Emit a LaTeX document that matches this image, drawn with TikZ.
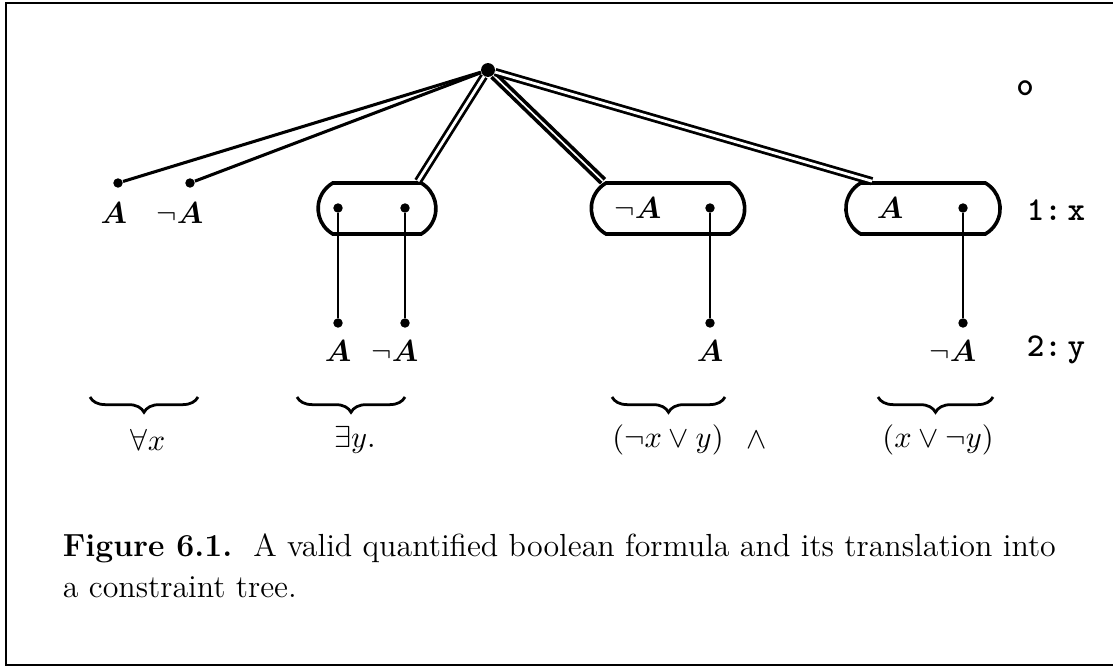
\documentclass[tikz,border=0pt]{standalone}
\usepackage{amsmath,bm}
\usetikzlibrary{positioning,calc,shapes.misc,decorations.pathreplacing}
\tikzset{
  dot/.style={circle,fill,inner sep=0pt,minimum size=3.4pt},
  clause/.style={draw,line width=1.3pt,rounded rectangle,rounded rectangle arc length=120,
    minimum height=0.645cm,inner sep=0pt},
  link/.style={line width=1.1pt},
  dlink/.style={double,double distance=1pt,line width=1pt},
  ubrace/.style={decorate,decoration={brace,mirror,amplitude=5.5pt},line width=1pt},
  level/.style={font=\fontsize{12}{14}\selectfont\ttfamily\bfseries}
}
\begin{document}
\begin{tikzpicture}[x=0.01265cm,y=-0.01265cm,font=\fontsize{11}{13}\selectfont]
\useasboundingbox (0,0) rectangle (1113,668);
\draw[line width=0.8pt] (1113,3)--(6,3)--(6,665)--(1113,665);

\node[dot,minimum size=5pt] (root) at (488,70) {};
% level 1
\node[dot] (a1) at (118,183) {};
\node[dot] (a2) at (190,183) {};
\node (la1) [below=1.5pt of a1,xshift=-1.5pt] {$\bm{A}$};
\node (la2) [below=1.5pt of a2,xshift=-3.6pt] {$\neg\bm{A}$};
\node[clause,minimum width=1.49cm] (b1) at (377,208.5) {};
\node[clause,minimum width=1.94cm] (b2) at (668,208.5) {};
\node[clause,minimum width=1.95cm] (b3) at (923,208.5) {};
\node[dot] (b1d1) at (338,208) {};
\node[dot] (b1d2) at (405,208) {};
\node (b2t) at (638,208) {$\neg\bm{A}$};
\node[dot] (b2d) at (710,208) {};
\node (b3t) at (890,208) {$\bm{A}$};
\node[dot] (b3d) at (963,208) {};
% level 2
\node[dot] (c1) at (338,323) {};
\node[dot] (c2) at (405,323) {};
\node[dot] (c3) at (710,323) {};
\node[dot] (c4) at (963,323) {};
\node (lc1) [below=1pt of c1] {$\bm{A}$};
\node (lc2) [below=1pt of c2,xshift=-3.6pt] {$\neg\bm{A}$};
\node (lc3) [below=1pt of c3] {$\bm{A}$};
\node (lc4) [below=1pt of c4,xshift=-3.6pt] {$\neg\bm{A}$};

\draw[link] (root) -- (a1);
\draw[link] (root) -- (a2);
\draw[dlink] (root) -- ($(b1.north)+(41,0)$);
\draw[dlink,double distance=0.6pt,line width=1.3pt] (root) -- ($(b2.north)+(-65,0)$);
\draw[dlink] (root) -- ($(b3.north)+(-51,0)$);
\foreach \u/\v in {b1d1/c1,b1d2/c2,b2d/c3,b3d/c4}
  \draw[line width=1pt] (\u) -- (\v);

\node[level] (n0) at (1025,88) {o};
\node[level] (n1) at (1056,210) {1:\,x};
\node[level] (n2) at (1056,350) {2:\,y};

% formula
\draw[ubrace] (90,397) -- (198,397);
\draw[ubrace] (297,397) -- (405,397);
\draw[ubrace] (612,397) -- (725,397);
\draw[ubrace] (878,397) -- (993,397);
\node (f1) at (148,440) {$\forall x$};
\node (f2) at (355,440) {$\exists y.$};
\node (f3) at (668,440) {$(\neg x\vee y)$};
\node (f4) at (757,440) {$\wedge$};
\node (f5) at (938,440) {$(x\vee\neg y)$};

\node[anchor=base west,font=\fontsize{11.5}{14}\selectfont] (cap1) at (53,556)
  {\textbf{Figure 6.1.}\ \ A valid quantified boolean formula and its translation into};
\node[anchor=base west,font=\fontsize{11.5}{14}\selectfont] (cap2) at (53,597) {a constraint tree.};
\end{tikzpicture}
\end{document}
